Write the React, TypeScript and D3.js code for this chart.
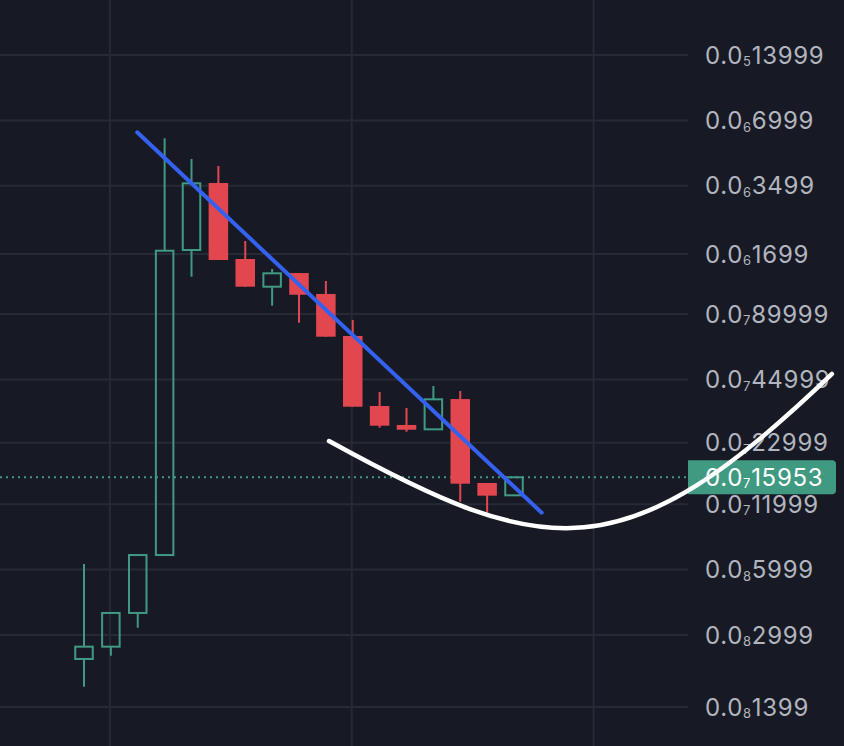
import React from "react";
import * as d3 from "d3";

// ---- data ----
const opens = [2.327e-9, 2.651e-9, 3.79e-9, 7.0e-9, 1.773e-7, 3.606e-7, 1.612e-7, 1.202e-7, 1.389e-7, 1.113e-7, 7.129e-8, 3.395e-8, 2.777e-8, 2.652e-8, 3.656e-8, 1.502e-8, 1.318e-8];
const highs = [6.365e-9, 3.789e-9, 7.0e-9, 5.791e-7, 4.65e-7, 4.318e-7, 1.951e-7, 1.449e-7, 1.389e-7, 1.277e-7, 8.447e-8, 3.938e-8, 3.324e-8, 4.196e-8, 3.981e-8, 1.502e-8, 1.5953e-8];
const lows = [1.734e-9, 2.409e-9, 3.241e-9, 7.0e-9, 1.336e-7, 1.595e-7, 1.202e-7, 9.829e-8, 8.207e-8, 7.076e-8, 3.37e-8, 2.698e-8, 2.585e-8, 2.652e-8, 1.232e-8, 1.096e-8, 1.318e-8];
const closes = [2.651e-9, 3.789e-9, 7.0e-9, 1.76e-7, 3.594e-7, 1.595e-7, 1.202e-7, 1.385e-7, 1.104e-7, 7.076e-8, 3.37e-8, 2.756e-8, 2.641e-8, 3.645e-8, 1.491e-8, 1.313e-8, 1.5953e-8];

const tickLabels = [
  "0.0000013999",
  "0.0000006999",
  "0.0000003499",
  "0.0000001699",
  "0.000000089999",
  "0.000000044999",
  "0.000000022999",
  "0.000000011999",
  "0.000000005999",
  "0.000000002999",
  "0.000000001399",
];
const lastPrice = "0.000000015953";
const timeGridBars = [1, 10, 19];

// drawings in (bar index, price)
const trendIdx = [1.98, 17.03];
const trendPrice = [6.17e-7, 1.096e-8];
const curveIdx = [9.116, 17.2, 20.1, 27.83];
const curvePrice = [2.343e-8, 6.6e-9, 5.725e-9, 4.767e-8];

// ---- style ----
const W = 844;
const H = 746;
const BG = "#171a25";
const GRID = "#262a35";
const UP = "#409a82";
const DOWN = "#e2474f";
const TEXT = "#b2b5be";
const AXIS_X = 688;

function splitLabel(s: string) {
  const dec = s.split(".")[1];
  let zeros = 0;
  while (dec[zeros] === "0") zeros++;
  return { zeros, rest: dec.slice(zeros) };
}

function PriceText({ s, x, y, fill }: { s: string; x: number; y: number; fill: string }) {
  const { zeros, rest } = splitLabel(s);
  return (
    <text x={x} y={y} fill={fill} fontSize={24} letterSpacing={0.7} fontFamily="Inter, Roboto, sans-serif">
      <tspan>0.0</tspan>
      <tspan fontSize={13} dy={2.5}>{zeros}</tspan>
      <tspan dy={-2.5}>{rest}</tspan>
    </text>
  );
}

export default function App() {
  const x = d3.scaleLinear().domain([0, 16]).range([84, 514]);
  const y = d3.scaleLog().domain([+tickLabels[tickLabels.length - 1], +tickLabels[0]]).range([707, 55]);
  const bw = 19.5;

  const p = d3.path();
  p.moveTo(x(curveIdx[0]), y(curvePrice[0]));
  p.bezierCurveTo(
    x(curveIdx[1]), y(curvePrice[1]),
    x(curveIdx[2]), y(curvePrice[2]),
    x(curveIdx[3]), y(curvePrice[3])
  );

  const lp = +lastPrice;
  const lpY = y(lp);

  return (
    <svg width={W} height={H} style={{ position: "absolute", left: 0, top: 0, display: "block" }}>
      <rect width={W} height={H} fill={BG} />
      {/* grid */}
      {tickLabels.map((t) => (
        <line key={t} x1={0} x2={AXIS_X} y1={y(+t)} y2={y(+t)} stroke={GRID} strokeWidth={2} />
      ))}
      {timeGridBars.map((b) => (
        <line key={b} x1={x(b) - 1} x2={x(b) - 1} y1={0} y2={H} stroke={GRID} strokeWidth={2} />
      ))}
      {/* last price line */}
      <line x1={0} x2={AXIS_X} y1={lpY} y2={lpY} stroke={UP} strokeWidth={2} strokeDasharray="2 4" />
      {/* candles */}
      {opens.map((o, i) => {
        const c = closes[i];
        const cx = x(i);
        const up = c >= o;
        const top = y(Math.max(o, c));
        const bot = y(Math.min(o, c));
        if (up) {
          return (
            <g key={i}>
              {highs[i] > Math.max(o, c) && (
                <line x1={cx} x2={cx} y1={y(highs[i])} y2={top} stroke={UP} strokeWidth={2} />
              )}
              {lows[i] < Math.min(o, c) && (
                <line x1={cx} x2={cx} y1={bot} y2={y(lows[i])} stroke={UP} strokeWidth={2} />
              )}
              <rect x={cx - bw / 2 + 1} y={top} width={bw - 2} height={Math.max(bot - top, 1)} fill="none" stroke={UP} strokeWidth={2} />
            </g>
          );
        }
        return (
          <g key={i}>
            <line x1={cx} x2={cx} y1={y(highs[i])} y2={y(lows[i])} stroke={DOWN} strokeWidth={2} />
            <rect x={cx - bw / 2} y={top} width={bw} height={Math.max(bot - top, 1)} fill={DOWN} />
          </g>
        );
      })}
      {/* axis labels */}
      {tickLabels.map((t) => (
        <PriceText key={t} s={t} x={705} y={y(+t) + 8.6} fill={TEXT} />
      ))}
      {/* last price label */}
      <path
        d={`M${AXIS_X},${lpY - 17} H${836 - 4} Q836,${lpY - 17} 836,${lpY - 13} V${lpY + 13} Q836,${lpY + 17} ${832},${lpY + 17} H${AXIS_X} Z`}
        fill={UP}
      />
      <PriceText s={lastPrice} x={705} y={lpY + 8.6} fill="#ffffff" />
      {/* drawings */}
      <line
        x1={x(trendIdx[0])}
        y1={y(trendPrice[0])}
        x2={x(trendIdx[1])}
        y2={y(trendPrice[1])}
        stroke="#3461f0"
        strokeWidth={4}
        strokeLinecap="round"
      />
      <path d={p.toString()} fill="none" stroke="#ffffff" strokeWidth={4.5} strokeLinecap="round" />
    </svg>
  );
}
